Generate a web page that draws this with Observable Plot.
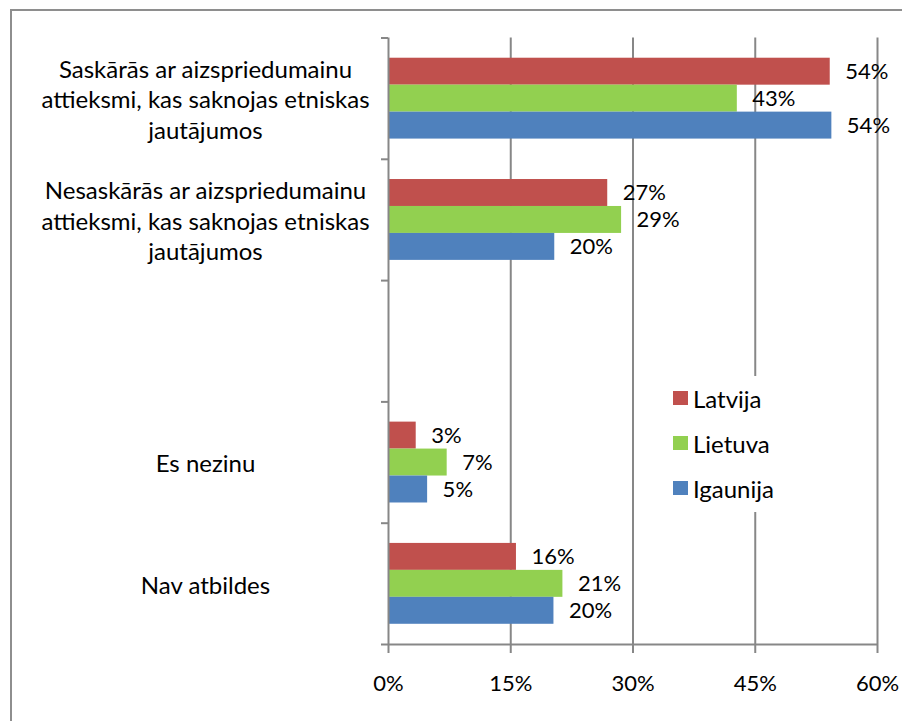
<!DOCTYPE html>
<html>
<head>
<meta charset="utf-8">
<script src="https://cdn.jsdelivr.net/npm/d3@7"></script>
<script src="https://cdn.jsdelivr.net/npm/@observablehq/plot@0.6"></script>
<style>
  html, body { margin: 0; padding: 0; background: #fff; }
  #wrap { position: relative; width: 902px; height: 721px; overflow: hidden; font-family: Lato, "Liberation Sans", sans-serif; }
  #wrap svg { position: absolute; left: 0; top: 0; }
  #frame { position: absolute; left: 10px; top: 9px; width: 900px; height: 720px; border-left: 2px solid #8e8e8e; border-top: 2px solid #8e8e8e; pointer-events: none; }
  #legend { position: absolute; left: 665px; top: 376px; width: 122px; height: 136px; background: #fff; }
  .item { position: absolute; left: 8px; height: 30px; display: flex; align-items: center; font-size: 24px; color: #000; }
  .sw { width: 15px; height: 14px; margin-right: 5px; }
</style>
</head>
<body>
<div id="wrap"><div id="frame"></div></div>
<script>
// ---- data ----
const categories = [
  "Saskārās ar aizspriedumainu\nattieksmi, kas saknojas etniskas\njautājumos",
  "Nesaskārās ar aizspriedumainu\nattieksmi, kas saknojas etniskas\njautājumos",
  "",
  "Es nezinu",
  "Nav atbildes"
];
const countries = ["Latvija", "Lietuva", "Igaunija"];
const latvija  = [54.2, 26.9, null, 3.4, 15.7];
const lietuva  = [42.8, 28.6, null, 7.2, 21.4];
const igaunija = [54.4, 20.4, null, 4.8, 20.3];
const xTicks = [0, 15, 30, 45, 60];
const colors = ["#C0504D", "#92D050", "#4F81BD"];

// ---- build table ----
const series = [latvija, lietuva, igaunija];
const rows = [];
categories.forEach((c, i) => {
  countries.forEach((country, j) => {
    const v = series[j][i];
    if (v == null) return;
    // band i spans [i, i+1]; three bars fill the middle 2/3 of the band
    const y1 = i + 1 / 6 + j * (2 / 9);
    rows.push({category: c, country, value: v, y1, y2: y1 + 2 / 9});
  });
});
const catRows = categories.map((c, i) => ({label: c, y: i + 0.5}));
const gray = "#878787";

const chart = Plot.plot({
  width: 902,
  height: 721,
  marginLeft: 388,
  marginRight: 25,
  marginTop: 37.5,
  marginBottom: 77,
  style: {fontFamily: "Lato, 'Liberation Sans', sans-serif", background: "transparent"},
  x: {domain: [0, 60]},
  y: {domain: [0, categories.length], reverse: true},
  color: {domain: countries, range: colors},
  marks: [
    Plot.ruleX(xTicks.slice(1), {stroke: gray, strokeWidth: 2}),
    Plot.rect(rows, {x1: 0, x2: "value", y1: "y1", y2: "y2", fill: "country"}),
    Plot.text(rows, {
      x: "value", y: d => (d.y1 + d.y2) / 2,
      text: d => Math.round(d.value) + "%",
      dx: 15, textAnchor: "start", fontSize: 22, fill: "#000"
    }),
    Plot.text(catRows, {
      x: () => 0, y: "y", text: "label",
      dx: -183, textAnchor: "middle", lineHeight: 1.27, fontSize: 24, fill: "#000"
    }),
    Plot.ruleX([0], {stroke: gray, strokeWidth: 2}),
    Plot.ruleY([categories.length], {stroke: gray, strokeWidth: 2}),
    Plot.axisX({
      ticks: xTicks, tickFormat: d => d + "%", tickSize: 9, tickPadding: 22,
      stroke: gray, strokeWidth: 2, fill: "#000", fontSize: 22, label: null
    }),
    Plot.axisY({
      ticks: d3.range(categories.length + 1), tickFormat: () => "", tickSize: 7,
      stroke: gray, strokeWidth: 2, label: null
    })
  ]
});
const wrap = document.getElementById("wrap");
wrap.insertBefore(chart, wrap.firstChild);

// legend (inside plot area, as in the reference)
const legend = document.createElement("div");
legend.id = "legend";
countries.forEach((c, j) => {
  const it = document.createElement("div");
  it.className = "item";
  it.style.top = (7 + j * 45) + "px";
  const sw = document.createElement("span");
  sw.className = "sw";
  sw.style.background = colors[j];
  it.appendChild(sw);
  it.appendChild(document.createTextNode(c));
  legend.appendChild(it);
});
wrap.appendChild(legend);
</script>
</body>
</html>
